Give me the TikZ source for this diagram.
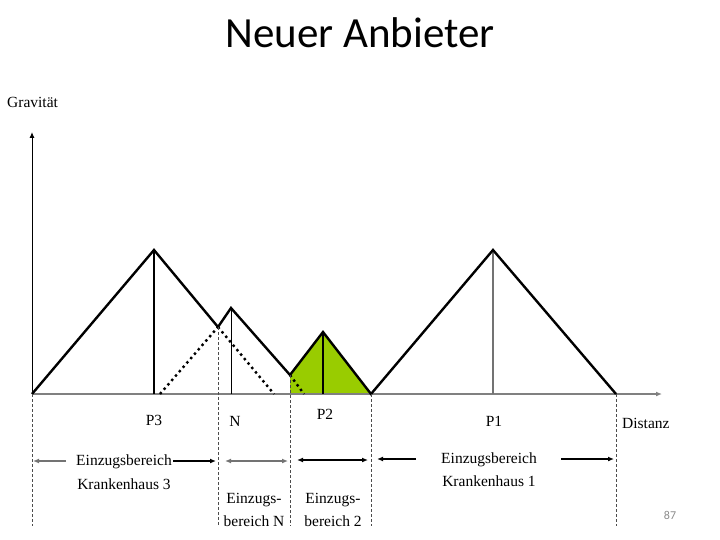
\documentclass[tikz,border=0pt]{standalone}
\usepackage{fontspec}
\setmainfont{Liberation Serif}
\newfontfamily\titlefont{Carlito}
\usepackage{xcolor}
\usetikzlibrary{arrows.meta}
\definecolor{areagreen}{RGB}{153,204,0}

\begin{document}
\begin{tikzpicture}[
        x=1pt, y=-1pt,
        >={Latex[length=6pt,width=5pt]},
        every node/.style={font=\fontsize{15.5}{18}\selectfont, inner sep=0pt},
        curve/.style={line width=2.4pt, line join=miter},
        dotline/.style={line width=2.4pt, dash pattern=on 2.4pt off 3.4pt},
        peakline/.style={line width=1.6pt},
        border/.style={black!70, line width=0.7pt, dash pattern=on 3pt off 2pt},
        label/.style={anchor=base},
        arr/.style={->, line width=1.4pt}
    ]
        \useasboundingbox (0,0) rectangle (720,540);

        % Title
        \node (title) [anchor=base, font=\titlefont\fontsize{43}{48}\selectfont] at (360,48) {Neuer Anbieter};
        \node (page) [anchor=base, font=\titlefont\fontsize{12}{14}\selectfont, text=black!45] at (670,519) {87};

        % Area of P2
        \fill [areagreen] (290,375) -- (323,332) -- (371,394) -- (290,394) -- cycle;

        % Axes
        \draw [->, line width=1pt] (32,394) -- (32,132);
        \draw [->, line width=1.6pt, black!50] (32,394) -- (662,394);

        % Peaks
        \draw [peakline] (154,250) -- (154,394);
        \draw [line width=1pt] (231,308) -- (231,394);
        \draw [line width=1.1pt] (323,332) -- (323,394);
        \draw [line width=1.4pt, black!55] (493,250) -- (493,394);

        % Hidden sides
        \draw [dotline] (160,394) -- (218,327);
        \draw [dotline] (218,327) -- (274,394);
        \draw [dotline] (290,375) -- (304,394);

        % Outline
        \draw [curve] (32,394) -- (154,250) -- (218,327) -- (231,308) -- (290,375) -- (323,332) -- (371,394) -- (493,250) -- (616,394);

        % Borders
        \foreach \bx/\by in {32/394, 218/327, 290/375, 371/394, 616/394}
            \draw [border] (\bx,\by) -- (\bx,526);

        % Nodes
        \node (grav) [anchor=base west] at (7,108) {Gravität};
        \node (dist) [anchor=base west] at (622,428) {Distanz};
        \node (p3) [label] at (154,425) {P3};
        \node (n) [label] at (235,426) {N};
        \node (p2) [label] at (325,419) {P2};
        \node (p1) [label] at (494,426) {P1};

        \node (ezb3) [label] at (124,465) {Einzugsbereich};
        \node (kh3) [label] at (124,489) {Krankenhaus 3};
        \node (ezbn) [label] at (254,503) {Einzugs-};
        \node (bern) [label] at (254,526) {bereich N};
        \node (ezb2) [label] at (333,503) {Einzugs-};
        \node (ber2) [label] at (333,526) {bereich 2};
        \node (ezb1) [label] at (489,463) {Einzugsbereich};
        \node (kh1) [label] at (489,486) {Krankenhaus 1};

        % Arrows
        \coordinate (a3l) at (66,461);  \coordinate (a3lt) at (33,461);
        \coordinate (a3r) at (173,461); \coordinate (a3rt) at (216,461);
        \coordinate (anl) at (225,461); \coordinate (anr) at (288,461);
        \coordinate (a2l) at (297,460); \coordinate (a2r) at (368,460);
        \coordinate (a1l) at (416,459); \coordinate (a1lt) at (377,459);
        \coordinate (a1r) at (561,459); \coordinate (a1rt) at (614,459);

        \draw [->, line width=1.2pt, black!55] (a3l) -- (a3lt);
        \draw [arr] (a3r) -- (a3rt);
        \draw [<->, line width=1.4pt, black!55] (anl) -- (anr);
        \draw [<->, line width=1.4pt] (a2l) -- (a2r);
        \draw [->, line width=1.2pt] (a1l) -- (a1lt);
        \draw [->, line width=1.2pt] (a1r) -- (a1rt);
    \end{tikzpicture}
\end{document}
